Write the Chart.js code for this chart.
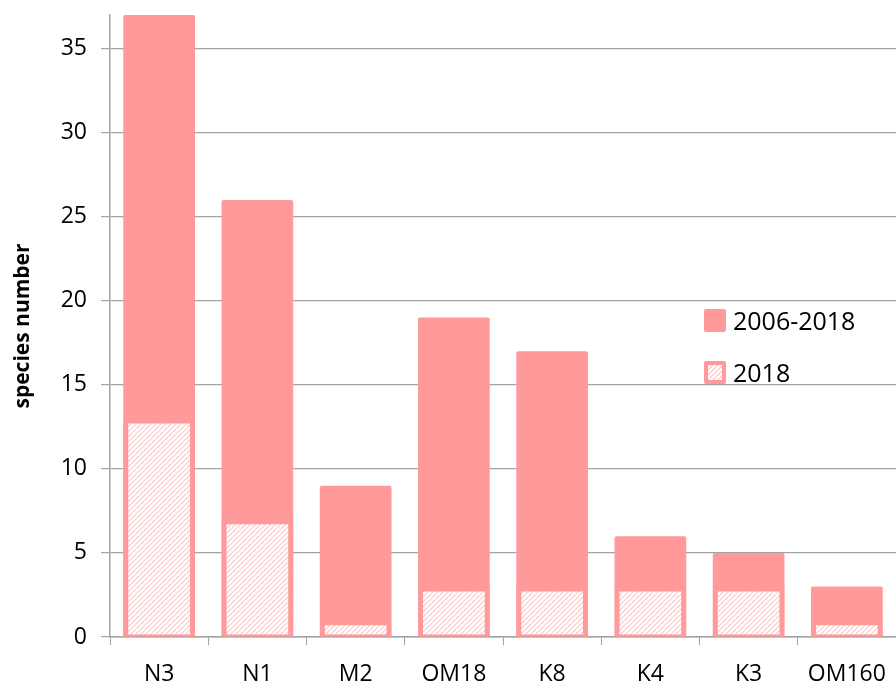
<!DOCTYPE html>
<html>
<head>
<meta charset="utf-8">
<title>species number</title>
<script src="https://cdn.jsdelivr.net/npm/chart.js@4/dist/chart.umd.min.js"></script>
<style>
  body { margin: 0; background: #fff; }
  #wrap { position: relative; width: 896px; height: 686px; }
  #legend { position: absolute; left: 704px; top: 305px; font-family: "Open Sans", sans-serif; font-size: 25px; color: #000; }
  #legend .item { display: flex; align-items: center; height: 30px; margin-bottom: 22px; }
  #legend .box { width: 22px; height: 23px; margin-right: 7px; border-radius: 2px; box-sizing: border-box; }
</style>
</head>
<body>
<div id="wrap">
  <canvas id="chart" width="896" height="686"></canvas>
  <div id="legend"></div>
</div>
<script>
const sites = ['N3', 'N1', 'M2', 'OM18', 'K8', 'K4', 'K3', 'OM160'];
const speciesAll = [37, 26, 9, 19, 17, 6, 5, 3];   // 2006-2018
const species2018 = [13, 7, 1, 3, 3, 3, 3, 1];    // 2018
const seriesNames = ['2006-2018', '2018'];
const yTicks = [0, 5, 10, 15, 20, 25, 30, 35];

const PINK = '#ff999a';
const GRID = '#a3a3a3';

// white fill with thin pink diagonal hatching
function makeHatch() {
  const c = document.createElement('canvas');
  c.width = 5; c.height = 5;
  const g = c.getContext('2d');
  g.fillStyle = '#fff';
  g.fillRect(0, 0, 5, 5);
  g.strokeStyle = '#fcc8c8';
  g.lineWidth = 1.2;
  g.beginPath();
  g.moveTo(0, 5); g.lineTo(5, 0);
  g.moveTo(-2.5, 2.5); g.lineTo(2.5, -2.5);
  g.moveTo(2.5, 7.5); g.lineTo(7.5, 2.5);
  g.stroke();
  return c;
}
const hatchCanvas = makeHatch();
const ctx = document.getElementById('chart').getContext('2d');
const hatch = ctx.createPattern(hatchCanvas, 'repeat');

const chart = new Chart(ctx, {
  type: 'bar',
  data: {
    labels: sites,
    datasets: [{
      label: seriesNames[0],
      data: speciesAll,
      backgroundColor: PINK,
      borderWidth: 0,
      borderRadius: 2,
      order: 1
    }, {
      label: seriesNames[1],
      data: species2018,
      backgroundColor: hatch,
      borderColor: PINK,
      borderWidth: { top: 5, left: 5, right: 5, bottom: 2 },
      borderSkipped: false,
      order: 0
    }]
  },
  options: {
    responsive: false,
    animation: false,
    devicePixelRatio: 1,
    layout: { padding: { top: 15, right: 0, left: 0, bottom: 0 } },
    datasets: { bar: { barPercentage: 0.73, categoryPercentage: 1 } },
    plugins: {
      legend: { display: false },
      tooltip: { enabled: false }
    },
    scales: {
      x: {
        stacked: true,
        grid: { display: true, drawOnChartArea: false, drawTicks: true, tickLength: 8, color: GRID, offset: true },
        border: { display: true, color: GRID, width: 1.5 },
        ticks: { color: '#000', font: { family: 'Open Sans', size: 23 }, padding: 16 },
        afterFit: s => { s.height = 49; s.paddingLeft = 0; s.paddingRight = 0; }
      },
      y: {
        stacked: false,
        min: 0,
        max: 37,
        afterBuildTicks: s => { s.ticks = yTicks.map(v => ({ value: v })); },
        grid: { color: GRID, lineWidth: 1.2, tickLength: 9 },
        border: { display: true, color: GRID, width: 1.5 },
        ticks: { color: '#000', font: { family: 'Open Sans', size: 23 }, padding: 14 },
        title: {
          display: true,
          text: 'species number',
          color: '#000',
          font: { family: 'Open Sans', size: 21, weight: 'bold' },
          padding: { top: 10, bottom: 0 }
        },
        afterFit: s => { s.width = 110; s.paddingTop = 0; s.paddingBottom = 0; }
      }
    }
  }
});

// legend drawn from the chart's datasets
const legend = document.getElementById('legend');
chart.data.datasets.forEach((ds, i) => {
  const item = document.createElement('div');
  item.className = 'item';
  const box = document.createElement('div');
  box.className = 'box';
  if (i === 0) {
    box.style.background = PINK;
  } else {
    box.style.border = '4px solid ' + PINK;
    box.style.backgroundImage = 'url(' + hatchCanvas.toDataURL() + ')';
  }
  const txt = document.createElement('span');
  txt.textContent = ds.label;
  item.appendChild(box);
  item.appendChild(txt);
  legend.appendChild(item);
});
</script>
</body>
</html>
